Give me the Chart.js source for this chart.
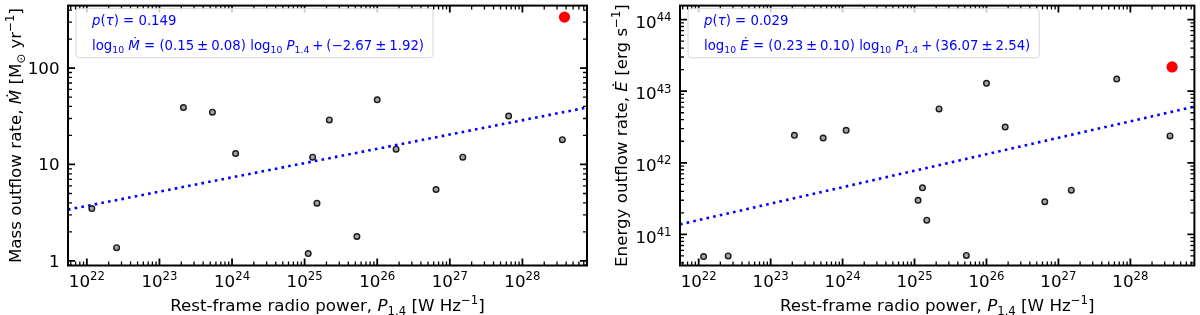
<!DOCTYPE html>
<html>
<head>
<meta charset="utf-8">
<script src="https://cdn.jsdelivr.net/npm/chart.js@4/dist/chart.umd.min.js"></script>
<style>
  body { margin: 0; background: #fff; }
  #wrap { position: relative; width: 1200px; height: 315px; }
  canvas { position: absolute; top: 0; }
</style>
</head>
<body>
<div id="wrap">
  <canvas id="massChart" width="600" height="315" style="left:0"></canvas>
  <canvas id="energyChart" width="600" height="315" style="left:600px"></canvas>
</div>
<script>
// values
const radioPower = [1.17e22, 2.57e22, 2.14e23, 5.37e23, 1.12e24, 1.12e25, 1.29e25, 1.48e25,
                    2.19e25, 5.25e25, 1.0e26, 1.82e26, 6.46e26, 1.51e27, 6.46e27, 3.55e28];
const massRate = [3.49, 1.37, 39, 34.9, 13.0, 1.19, 11.9, 3.97,
                  29, 1.79, 46.9, 14.4, 5.5, 11.9, 31.8, 18.1];
const energyRate = [4.9e40, 5.0e40, 2.42e42, 2.22e42, 2.84e42, 2.99e41, 4.47e41, 1.58e41,
                    5.65e42, 5.08e40, 1.29e43, 3.16e42, 2.86e41, 4.15e41, 1.48e43, 2.37e42];
const redPower = [3.8e28];
const redMass = [338];
const redEnergy = [2.18e43];
// dotted fit lines, ends read at the frame edges
const fitPower = [5.5e21, 7.76e28];
const fitMass = [3.4, 39];
const fitEnergy = [1.38e41, 6.08e42];

const xTickExps = [22, 23, 24, 25, 26, 27, 28];
const massTicks = [1, 10, 100];
const massTickLabels = ["1", "10", "100"];
const energyTickExps = [41, 42, 43, 44];

const F = 16.7;   // tick/label font
const L = 13.3;   // legend font
const FONT = '"DejaVu Sans"';

function fontOf(r) {
  return (r.i ? 'italic ' : '') + r.s + 'px ' + FONT;
}
const tx = (t, s) => ({ t, s });
const it = (t, s) => ({ t, s, i: true });
const sup = (t, s) => ({ t, s: s * 0.7, dy: -s * 0.4 });
const sub = (t, s) => ({ t, s: s * 0.7, dy: s * 0.22 });
const gap = (px) => ({ t: '', s: 10, gap: px });

function runWidth(ctx, r) {
  if (r.gap !== undefined) return r.gap;
  ctx.font = fontOf(r);
  return ctx.measureText(r.t).width;
}

function measureRuns(ctx, runs) {
  return runs.reduce((w, r) => w + runWidth(ctx, r), 0);
}

function drawRuns(ctx, runs, x, y, align) {
  const w = measureRuns(ctx, runs);
  let cx = align === 'center' ? x - w / 2 : align === 'right' ? x - w : x;
  ctx.textAlign = 'left';
  ctx.textBaseline = 'alphabetic';
  runs.forEach(r => {
    const rw = runWidth(ctx, r);
    if (r.gap === undefined) {
      ctx.font = fontOf(r);
      ctx.fillText(r.t, cx, y + (r.dy || 0));
    }
    cx += rw;
  });
  return w;
}

// mathtext-like "a ± b" with narrower operator spacing
function pm(a, b, s) {
  return [tx(a, s), gap(s * 0.22), tx('\u00B1', s), gap(s * 0.22), tx(b, s)];
}

function decorPlugin(cfg) {
  return {
    id: 'decor',
    afterDraw(chart) {
      const ctx = chart.ctx;
      const a = chart.chartArea;
      const xs = chart.scales.x, ys = chart.scales.y;
      ctx.save();
      ctx.strokeStyle = '#000';
      ctx.fillStyle = '#000';

      // inward ticks on all four sides
      const drawTicks = (scale, horizontal) => {
        const lo = Math.floor(Math.log10(scale.min)), hi = Math.ceil(Math.log10(scale.max));
        for (let e = lo; e <= hi; e++) {
          for (let k = 1; k <= 9; k++) {
            const v = k * Math.pow(10, e);
            if (v < scale.min || v > scale.max) continue;
            const p = scale.getPixelForValue(v);
            const len = k === 1 ? 7 : 4;
            ctx.lineWidth = k === 1 ? 1.8 : 1.3;
            ctx.beginPath();
            if (horizontal) {
              ctx.moveTo(p, a.bottom); ctx.lineTo(p, a.bottom - len);
              ctx.moveTo(p, a.top); ctx.lineTo(p, a.top + len);
            } else {
              ctx.moveTo(a.left, p); ctx.lineTo(a.left + len, p);
              ctx.moveTo(a.right, p); ctx.lineTo(a.right - len, p);
            }
            ctx.stroke();
          }
        }
      };
      drawTicks(xs, true);
      drawTicks(ys, false);

      // frame
      ctx.lineWidth = 2;
      ctx.strokeRect(a.left, a.top, a.right - a.left, a.bottom - a.top);

      // x tick labels
      xTickExps.forEach(e => {
        const p = xs.getPixelForValue(Math.pow(10, e));
        drawRuns(ctx, [tx('10', F), sup(String(e), F)], p, a.bottom + 21.5, 'center');
      });
      // y tick labels
      cfg.yLabels.forEach(lb => {
        const p = ys.getPixelForValue(lb.v);
        drawRuns(ctx, lb.runs, a.left - 8.5, p + lb.dy, 'right');
      });

      // x title
      drawRuns(ctx, [tx('Rest-frame radio power, ', F), it('P', F), sub('1.4', F),
                     tx(' [W Hz', F), sup('\u22121', F), tx(']', F)],
               (a.left + a.right) / 2, 311, 'center');

      // y title (rotated)
      ctx.save();
      ctx.translate(cfg.yTitleX, (a.top + a.bottom) / 2);
      ctx.rotate(-Math.PI / 2);
      drawRuns(ctx, cfg.yTitle, 0, 0, 'center');
      ctx.restore();

      // legend box
      const bx = a.left + 8, by = 8.3, tx0 = a.left + 24;
      const w = Math.max(measureRuns(ctx, cfg.leg1), measureRuns(ctx, cfg.leg2));
      const bw = tx0 - bx + w + 9, bh = 49.5;
      ctx.beginPath();
      ctx.roundRect(bx, by, bw, bh, 3.5);
      ctx.fillStyle = 'rgba(255,255,255,0.8)';
      ctx.fill();
      ctx.strokeStyle = '#d6d6d6';
      ctx.lineWidth = 1;
      ctx.stroke();
      ctx.fillStyle = '#0000ff';
      drawRuns(ctx, cfg.leg1, tx0, 25, 'left');
      drawRuns(ctx, cfg.leg2, tx0, 50, 'left');
      ctx.restore();
    }
  };
}

function makeChart(id, cfg) {
  const ctx = document.getElementById(id).getContext('2d');
  return new Chart(ctx, {
    data: {
      datasets: [{
        type: 'line',
        data: fitPower.map((p, i) => ({ x: p, y: cfg.fit[i] })),
        borderColor: '#0000ff',
        borderWidth: 2.6,
        borderDash: [2.6, 4.2],
        pointRadius: 0,
        fill: false
      }, {
        type: 'scatter',
        data: radioPower.map((p, i) => ({ x: p, y: cfg.values[i] })),
        backgroundColor: '#a3a3a3',
        borderColor: '#1a1a1a',
        borderWidth: 1.4,
        pointRadius: 2.8
      }, {
        type: 'scatter',
        data: redPower.map((p, i) => ({ x: p, y: cfg.red[i] })),
        backgroundColor: '#ff0000',
        borderWidth: 0,
        pointRadius: 5.6
      }]
    },
    options: {
      responsive: false,
      animation: false,
      layout: { padding: cfg.padding },
      plugins: { legend: { display: false }, tooltip: { enabled: false } },
      scales: {
        x: { type: 'logarithmic', min: 5.5e21, max: 7.76e28, display: false },
        y: { type: 'logarithmic', min: cfg.yMin, max: cfg.yMax, display: false }
      }
    },
    plugins: [decorPlugin(cfg)]
  });
}

window.onload = () => {
  makeChart('massChart', {
    values: massRate, red: redMass, fit: fitMass,
    yMin: 0.895, yMax: 445,
    padding: { left: 68, right: 13, top: 3, bottom: 49.5 },
    yLabels: massTicks.map((v, i) => ({ v, dy: 6, runs: [tx(massTickLabels[i], F)] })),
    yTitleX: 21,
    yTitle: [tx('Mass outflow rate, ', F), it('\u1E40', F), tx(' [M', F), sub('\u2299', F),
             tx(' yr', F), sup('\u22121', F), tx(']', F)],
    leg1: [it('p', L), tx('(', L), it('\u03C4', L), tx(') = 0.149', L)],
    leg2: [tx('log', L), sub('10', L), tx(' ', L), it('\u1E40', L), tx(' = (', L),
           ...pm('0.15', '0.08', L), tx(') log', L), sub('10', L), tx(' ', L), it('P', L), sub('1.4', L),
           gap(L * 0.22), tx('+', L), gap(L * 0.22), tx('(\u22122.67', L), ...pm('', '1.92)', L)]
  });
  makeChart('energyChart', {
    values: energyRate, red: redEnergy, fit: fitEnergy,
    yMin: 3.68e40, yMax: 1.567e44,
    padding: { left: 80, right: 4, top: 3, bottom: 49.5 },
    yLabels: energyTickExps.map(e => ({ v: Math.pow(10, e), dy: 8.3, runs: [tx('10', F), sup(String(e), F)] })),
    yTitleX: 27,
    yTitle: [tx('Energy outflow rate, ', F), it('\u0116', F), tx(' [erg s', F), sup('\u22121', F), tx(']', F)],
    leg1: [it('p', L), tx('(', L), it('\u03C4', L), tx(') = 0.029', L)],
    leg2: [tx('log', L), sub('10', L), tx(' ', L), it('\u0116', L), tx(' = (', L),
           ...pm('0.23', '0.10', L), tx(') log', L), sub('10', L), tx(' ', L), it('P', L), sub('1.4', L),
           gap(L * 0.22), tx('+', L), gap(L * 0.22), tx('(36.07', L), ...pm('', '2.54)', L)]
  });
};
</script>
</body>
</html>
